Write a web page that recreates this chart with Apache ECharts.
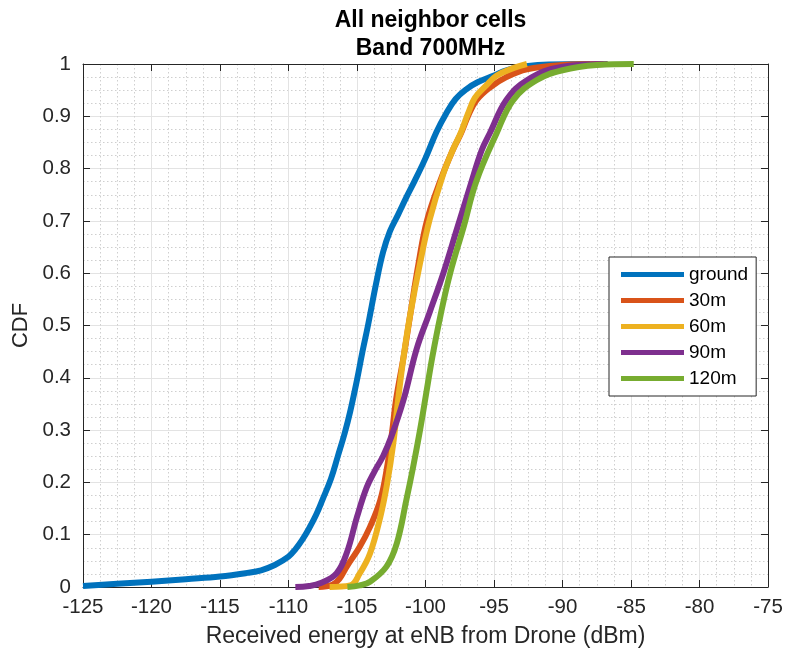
<!DOCTYPE html>
<html>
<head>
<meta charset="utf-8">
<script src="https://cdn.jsdelivr.net/npm/echarts@6/dist/echarts.min.js"></script>
<style>
  html, body { margin: 0; padding: 0; background: #fff; }
  #chart { width: 786px; height: 655px; }
</style>
</head>
<body>
<div id="chart"></div>
<script>
// CDF of received energy at the eNB, one curve per drone altitude
const seriesNames = ['ground', '30m', '60m', '90m', '120m'];
const seriesColors = ['#0072BD', '#D95319', '#EDB120', '#7E2F8E', '#77AC30'];

const ground = [
  [-125, 0.002], [-122.5, 0.006], [-120, 0.010], [-117.5, 0.015], [-115, 0.020],
  [-113, 0.027], [-112, 0.032], [-111, 0.042], [-110, 0.058], [-109.5, 0.072],
  [-109, 0.090], [-108.5, 0.112], [-108, 0.137], [-107.5, 0.168], [-106.9, 0.207],
  [-106.4, 0.250], [-105.9, 0.294], [-105.5, 0.335], [-105.0, 0.396], [-104.6, 0.450],
  [-104.2, 0.500], [-103.6, 0.581], [-103.1, 0.640], [-102.6, 0.680], [-102.0, 0.712],
  [-101.4, 0.745], [-100.8, 0.776], [-100.0, 0.820], [-99.2, 0.870], [-98.5, 0.905],
  [-97.8, 0.933], [-97.0, 0.952], [-96.2, 0.965], [-95.0, 0.978], [-94.1, 0.988],
  [-92.5, 0.996], [-91.0, 0.999], [-88.0, 1.0]
];

const alt30 = [
  [-107.8, 0.0], [-106.8, 0.004], [-106.3, 0.015], [-105.75, 0.039], [-104.8, 0.077],
  [-104.05, 0.115], [-103.3, 0.166], [-102.8, 0.230], [-102.45, 0.294], [-102.15, 0.358],
  [-101.6, 0.440], [-101.1, 0.523], [-100.5, 0.620], [-99.9, 0.700], [-98.9, 0.778],
  [-98.0, 0.836], [-97.4, 0.868], [-96.9, 0.900], [-96.3, 0.930], [-95.3, 0.955],
  [-94.1, 0.975], [-92.6, 0.990], [-90.0, 0.998], [-87.0, 1.0]
];

const alt60 = [
  [-107.0, 0.0], [-105.5, 0.003], [-104.8, 0.026], [-104.05, 0.064], [-103.3, 0.134],
  [-102.8, 0.198], [-102.35, 0.275], [-102.0, 0.358], [-101.6, 0.440], [-101.1, 0.523],
  [-100.4, 0.619], [-99.7, 0.702], [-98.7, 0.790], [-98.0, 0.836], [-97.4, 0.870],
  [-96.9, 0.905], [-96.4, 0.935], [-95.6, 0.958], [-94.8, 0.978], [-93.5, 0.993],
  [-92.6, 1.0]
];

const alt90 = [
  [-109.5, 0.0], [-108.5, 0.002], [-107.7, 0.007], [-106.5, 0.026], [-105.75, 0.065],
  [-105.0, 0.134], [-104.3, 0.190], [-103.7, 0.222], [-103.1, 0.250], [-102.5, 0.287],
  [-101.6, 0.358], [-100.65, 0.455], [-99.7, 0.525], [-98.7, 0.600], [-97.7, 0.685],
  [-96.7, 0.770], [-95.9, 0.835], [-95.3, 0.868], [-94.1, 0.931], [-92.6, 0.969],
  [-90.0, 0.995], [-86.7, 1.0]
];

const alt120 = [
  [-105.7, 0.0], [-104.8, 0.003], [-104.05, 0.010], [-102.85, 0.039], [-102.1, 0.083],
  [-101.4, 0.166], [-100.9, 0.230], [-100.4, 0.300], [-99.95, 0.370], [-99.5, 0.440],
  [-98.9, 0.520], [-98.2, 0.600], [-97.2, 0.690], [-96.3, 0.775], [-94.8, 0.868],
  [-93.6, 0.931], [-91.9, 0.969], [-90.0, 0.988], [-87.5, 0.998], [-84.8, 1.0]
];

const curves = [ground, alt30, alt60, alt90, alt120];

const xTicks = { min: -125, max: -75, step: 5 };
const yTicks = { min: 0, max: 1, step: 0.1 };

const FONT = '"Liberation Sans", Arial, Helvetica, sans-serif';
const INK = '#262626';

const chart = echarts.init(document.getElementById('chart'), null, { renderer: 'canvas' });

const gridLine = { show: true, lineStyle: { color: '#e3e3e3', width: 1 } };
const minorLine = { show: true, lineStyle: { color: '#cfcfcf', width: 1, type: [1.5, 2.5] } };

function frameAxis(extra) {
  return Object.assign({
    type: 'value',
    axisLine: { show: true, onZero: false, lineStyle: { color: INK, width: 1 } },
    axisTick: { show: true, inside: true, length: 7, lineStyle: { color: INK } },
    axisLabel: { show: false },
    splitLine: { show: false },
    minorTick: { show: false },
    minorSplitLine: { show: false }
  }, extra);
}

const option = {
  backgroundColor: '#fff',
  animation: false,
  title: {
    text: 'All neighbor cells\nBand 700MHz',
    left: 425.5,
    textAlign: 'center',
    top: 2,
    textStyle: { fontFamily: FONT, fontSize: 23, fontWeight: 'bold', color: '#000', lineHeight: 28 }
  },
  grid: { left: 83, right: 18, top: 64, bottom: 68 },
  legend: {
    data: seriesNames,
    orient: 'vertical',
    left: 609,
    top: 257,
    icon: 'rect',
    itemWidth: 63,
    itemHeight: 5,
    itemGap: 7,
    padding: [8, 8, 8, 12],
    backgroundColor: '#fff',
    borderColor: INK,
    borderWidth: 1,
    borderRadius: 0,
    textStyle: { fontFamily: FONT, fontSize: 19, color: '#000' }
  },
  xAxis: [
    {
      type: 'value',
      min: xTicks.min,
      max: xTicks.max,
      interval: xTicks.step,
      name: 'Received energy at eNB from Drone (dBm)',
      nameLocation: 'middle',
      nameGap: 38,
      nameTextStyle: { fontFamily: FONT, fontSize: 23, color: INK },
      axisLine: { show: true, onZero: false, lineStyle: { color: INK, width: 1 } },
      axisTick: { show: true, inside: true, length: 7, lineStyle: { color: INK } },
      axisLabel: { fontFamily: FONT, fontSize: 20.5, color: INK, margin: 10 },
      splitLine: gridLine,
      minorTick: { show: false, splitNumber: 4 },
      minorSplitLine: minorLine
    },
    frameAxis({ position: 'top', min: xTicks.min, max: xTicks.max, interval: xTicks.step })
  ],
  yAxis: [
    {
      type: 'value',
      min: yTicks.min,
      max: yTicks.max,
      interval: yTicks.step,
      name: 'CDF',
      nameLocation: 'middle',
      nameGap: 50,
      nameTextStyle: { fontFamily: FONT, fontSize: 22, color: INK },
      axisLine: { show: true, onZero: false, lineStyle: { color: INK, width: 1 } },
      axisTick: { show: true, inside: true, length: 7, lineStyle: { color: INK } },
      axisLabel: { fontFamily: FONT, fontSize: 20.5, color: INK, margin: 12 },
      splitLine: gridLine,
      minorTick: { show: false, splitNumber: 4 },
      minorSplitLine: minorLine
    },
    frameAxis({ position: 'right', min: yTicks.min, max: yTicks.max, interval: yTicks.step })
  ],
  series: curves.map((pts, i) => ({
    name: seriesNames[i],
    type: 'line',
    data: pts,
    xAxisIndex: 0,
    yAxisIndex: 0,
    showSymbol: false,
    smooth: 0.4,
    lineStyle: { color: seriesColors[i], width: 6, cap: 'butt', join: 'round' },
    itemStyle: { color: seriesColors[i] },
    z: 3 + i
  }))
};

chart.setOption(option);
</script>
</body>
</html>
